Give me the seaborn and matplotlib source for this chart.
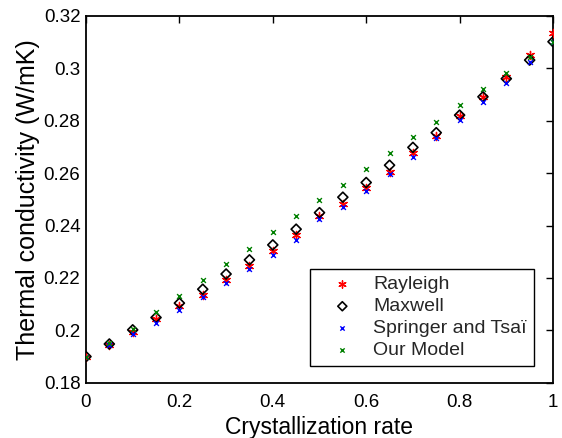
import numpy as np
import pandas as pd
import matplotlib
matplotlib.use("Agg")
import matplotlib.pyplot as plt
import seaborn as sns

# Crystallization rate and thermal conductivity (W/mK) for each model
rate = [0.00, 0.05, 0.10, 0.15, 0.20, 0.25, 0.30, 0.35, 0.40, 0.45, 0.50,
        0.55, 0.60, 0.65, 0.70, 0.75, 0.80, 0.85, 0.90, 0.95, 1.00]
rayleigh = [0.1900, 0.1946, 0.1992, 0.2045, 0.2093, 0.2136, 0.2192, 0.2246,
            0.2304, 0.2364, 0.2435, 0.2482, 0.2542, 0.2603, 0.2675, 0.2741,
            0.2819, 0.2890, 0.2965, 0.3050, 0.3135]
maxwell = [0.1900, 0.1948, 0.2002, 0.2049, 0.2104, 0.2157, 0.2215, 0.2269,
           0.2326, 0.2386, 0.2449, 0.2508, 0.2564, 0.2630, 0.2698, 0.2754,
           0.2821, 0.2891, 0.2960, 0.3031, 0.3101]
springer = [0.1900, 0.1944, 0.1985, 0.2030, 0.2078, 0.2126, 0.2180, 0.2234,
            0.2288, 0.2345, 0.2425, 0.2470, 0.2532, 0.2597, 0.2662, 0.2733,
            0.2802, 0.2872, 0.2945, 0.3024, 0.3100]
our_model = [0.1900, 0.1952, 0.2007, 0.2072, 0.2133, 0.2192, 0.2252, 0.2311,
             0.2374, 0.2436, 0.2497, 0.2555, 0.2616, 0.2677, 0.2739, 0.2796,
             0.2858, 0.2919, 0.2980, 0.3044, 0.3100]

x_ticks = [0, 0.2, 0.4, 0.6, 0.8, 1.0]
x_ticklabels = ["0", "0.2", "0.4", "0.6", "0.8", "1"]
y_ticks = [0.18, 0.20, 0.22, 0.24, 0.26, 0.28, 0.30, 0.32]
y_ticklabels = ["0.18", "0.2", "0.22", "0.24", "0.26", "0.28", "0.3", "0.32"]

sns.set_theme(style="white")
plt.rcParams["font.family"] = ["Liberation Sans", "DejaVu Sans"]

df = pd.DataFrame({
    "rate": rate,
    "Rayleigh": rayleigh,
    "Maxwell": maxwell,
    "Springer and Tsaï": springer,
    "Our Model": our_model,
})

fig = plt.figure(figsize=(5.62, 4.38), dpi=100)
ax = fig.add_axes([0.153, 0.126, 0.831, 0.838])

asterisk = (6, 2, 0)
sns.scatterplot(data=df, x="rate", y="Rayleigh", ax=ax, marker=asterisk,
                s=34, color="#ff0000", edgecolor="#ff0000", linewidth=1.0,
                label="Rayleigh", zorder=3)
sns.scatterplot(data=df, x="rate", y="Maxwell", ax=ax, marker="D",
                s=26, facecolor="none", edgecolor="black", linewidth=1.2,
                label="Maxwell", zorder=4)
sns.scatterplot(data=df, x="rate", y="Springer and Tsaï", ax=ax, marker="x",
                s=12, color="#0000ff", linewidth=1.0,
                label="Springer and Tsaï", zorder=5)
sns.scatterplot(data=df, x="rate", y="Our Model", ax=ax, marker="x",
                s=12, color="#008000", linewidth=1.0,
                label="Our Model", zorder=6)

ax.set_xlim(0, 1)
ax.set_ylim(0.18, 0.32)
ax.set_xticks(x_ticks)
ax.set_xticklabels(x_ticklabels)
ax.set_yticks(y_ticks)
ax.set_yticklabels(y_ticklabels)
ax.tick_params(direction="in", length=5, width=1.0, top=True, right=True,
               labelsize=13.5, colors="black", pad=4)
ax.tick_params(axis="x", pad=8)
for sp in ax.spines.values():
    sp.set_visible(True)
    sp.set_color("black")
    sp.set_linewidth(1.3)

ax.set_xlabel("Crystallization rate", fontsize=16.5, color="black",
              labelpad=4)
ax.set_ylabel("Thermal conductivity (W/mK)", fontsize=18, color="black",
              labelpad=3)

leg = ax.legend(loc="lower right", bbox_to_anchor=(0.959, 0.046),
                fontsize=14, frameon=True, fancybox=False, borderpad=0.35,
                labelspacing=0.22, handletextpad=0.3, handlelength=2.6,
                borderaxespad=0, markerscale=0.9)
leg.get_frame().set_edgecolor("black")
leg.get_frame().set_linewidth(1.0)
leg.get_frame().set_alpha(1)

fig.savefig("out.png", dpi=100)
